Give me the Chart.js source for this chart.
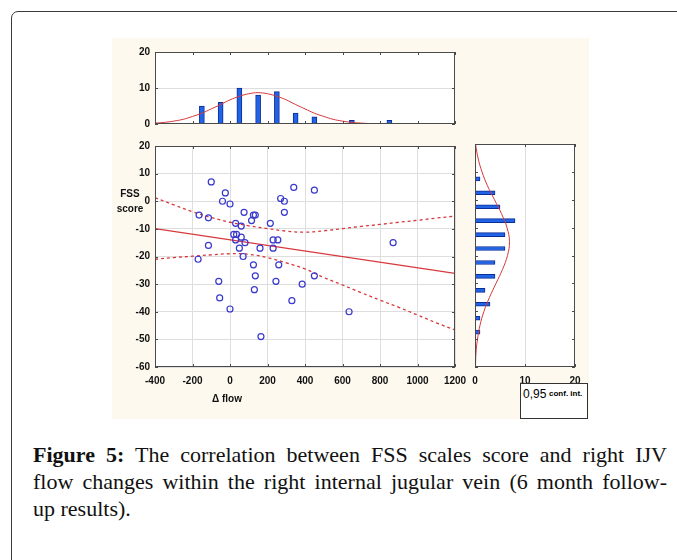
<!DOCTYPE html>
<html>
<head>
<meta charset="utf-8">
<script src="https://cdn.jsdelivr.net/npm/chart.js@4.4.0/dist/chart.umd.min.js"></script>
<style>
  body { margin: 0; width: 677px; height: 560px; overflow: hidden; position: relative; background: #fff; font-family: "Liberation Sans", Arial, sans-serif; }
  .frame { position: absolute; left: 11px; top: 11px; width: 720px; height: 620px; border: 1.5px solid #3a3a3a; border-radius: 7px; }
  .figure { position: absolute; left: 112px; top: 38px; width: 477px; height: 381px; background: #fdf9ef; }
  .panel { position: absolute; }
  .lbl { position: absolute; font-size: 10px; font-weight: bold; color: #111; text-align: center; line-height: 15px; }
  .ci { position: absolute; left: 520px; top: 383px; width: 68px; height: 36px; background: #fff; border: 1px solid #333; box-sizing: border-box; }
  .ci span { position: absolute; top: 3px; }
  .caption { position: absolute; left: 33px; top: 441px; width: 634px; font-family: "Liberation Serif", "Times New Roman", serif; font-size: 22px; line-height: 27px; color: #111; }
  .caption div { text-align: justify; text-align-last: justify; white-space: nowrap; }
  .caption div.last { text-align-last: left; }
</style>
</head>
<body>
<div class="frame"></div>
<div class="figure"></div>

<canvas id="top-hist" class="panel" width="358" height="95" style="left:112px;top:40px;"></canvas>
<canvas id="main-plot" class="panel" width="358" height="284" style="left:112px;top:135px;"></canvas>
<canvas id="side-hist" class="panel" width="120" height="284" style="left:470px;top:135px;"></canvas>

<div class="lbl" style="left:110px;top:186px;width:40px;">FSS<br>score</div>
<div class="lbl" style="left:207px;top:391px;width:40px;">&Delta; flow</div>
<div class="ci">
  <span style="left:2px;font-size:12px;">0,95</span>
  <span style="left:28px;top:5px;font-size:8px;font-weight:bold;">conf. int.</span>
</div>

<div class="caption">
  <div><b>Figure 5:</b> The correlation between FSS scales score and right IJV</div>
  <div>flow changes within the right internal jugular vein (6 month follow-</div>
  <div class="last">up results).</div>
</div>

<script>
// values
const flowDelta = [-100, -25, -40, 0, -165, -115, 75, 125, 135, 115, 30, 60, 215, 340, 450, 270, 290, 290, 20, 35, 30, 60, 80, 50, 160, 230, 255, 230, 70, -115, -170, 125, 260, 135, 450, 870, -60, 245, 385, -55, 130, 330, 0, 635, 165];
const fssScore = [7, 3, 0, -1, -5, -6, -4, -5, -5, -7, -8, -9, -8, 5, 4, 1, 0, -4, -12, -12, -14, -13, -15, -17, -17, -14, -14, -17, -20, -16, -21, -23, -23, -27, -27, -15, -29, -29, -30, -35, -32, -36, -39, -40, -49];

const regX = [-400, 1200];
const regY = [-9.9, -26.1];

const bandX = [-400, -300, -200, -100, 0, 100, 200, 300, 400, 500, 600, 700, 800, 900, 1000, 1100, 1200];
const bandUpper = [1.3, -1.3, -3.8, -5.9, -7.6, -8.9, -9.9, -10.8, -11.2, -10.7, -9.9, -9.1, -8.4, -7.6, -6.9, -6.1, -5.4];
const bandLower = [-21.0, -20.4, -19.9, -19.4, -19.0, -19.2, -20.4, -22.3, -24.5, -27.6, -30.3, -33.1, -35.8, -38.4, -41.2, -44.0, -46.6];

const flowBins = [-150, -50, 50, 150, 250, 350, 450, 550, 650, 750, 850];
const flowCounts = [5, 6, 10, 8, 9, 3, 2, 0, 1, 0, 1];
const flowCurveX = [-400, -350, -300, -250, -200, -150, -100, -50, 0, 50, 100, 150, 200, 250, 300, 350, 400, 450, 500, 550, 600, 650, 700, 750, 800, 850];
const flowCurveY = [0.25, 0.45, 0.8, 1.3, 2.1, 3.0, 4.2, 5.4, 6.7, 7.7, 8.4, 8.7, 8.4, 7.7, 6.7, 5.4, 4.2, 3.0, 2.1, 1.3, 0.8, 0.45, 0.25, 0.12, 0.06, 0.03];

const scoreBins = [7.5, 2.5, -2.5, -7.5, -12.5, -17.5, -22.5, -27.5, -32.5, -37.5, -42.5, -47.5];
const scoreCounts = [1, 4, 5, 8, 6, 6, 4, 4, 2, 3, 1, 1];
const scoreCurveY = [20, 15, 10, 5, 0, -5, -10, -15, -20, -25, -30, -35, -40, -45, -50, -55, -60];
const scoreCurveX = [0.1, 0.6, 1.4, 2.5, 3.9, 5.3, 6.4, 6.9, 6.5, 5.5, 4.2, 2.9, 1.8, 1.0, 0.5, 0.2, 0.1];

const flowTicks = [-400, -200, 0, 200, 400, 600, 800, 1000, 1200];
const scoreTicks = [20, 10, 0, -10, -20, -30, -40, -50, -60];
const countTicks = [0, 10, 20];

const RED = '#d8383c';
const BLUE_PT = '#3838cc';
const BAR_FILL = '#2163e6';
const BAR_EDGE = '#0c2d96';
const GRID = '#dedede';
const CLEAR = 'rgba(0,0,0,0)';
const tickFont = { family: '"Liberation Sans", Arial, sans-serif', size: 10, weight: 'bold' };

const zip = (xs, ys) => xs.map((x, i) => ({ x: x, y: ys[i] }));
const fixTicks = arr => scale => { scale.ticks = arr.map(v => ({ value: v })); };

// white plot area, dark frame and small inner tick marks on every edge
const panelFrame = {
  id: 'panelFrame',
  beforeDraw(chart) {
    const { ctx, chartArea: a } = chart;
    ctx.save();
    ctx.fillStyle = '#fff';
    ctx.fillRect(a.left, a.top, a.right - a.left, a.bottom - a.top);
    ctx.restore();
  },
  afterDraw(chart) {
    const { ctx, chartArea: a, scales } = chart;
    ctx.save();
    ctx.strokeStyle = '#4a4a4a';
    ctx.lineWidth = 1;
    ctx.beginPath();
    scales.x.ticks.forEach(t => {
      const px = Math.round(scales.x.getPixelForValue(t.value)) + 0.5;
      ctx.moveTo(px, a.top); ctx.lineTo(px, a.top + 3);
      ctx.moveTo(px, a.bottom); ctx.lineTo(px, a.bottom - 3);
    });
    scales.y.ticks.forEach(t => {
      const py = Math.round(scales.y.getPixelForValue(t.value)) + 0.5;
      ctx.moveTo(a.left, py); ctx.lineTo(a.left + 3, py);
      ctx.moveTo(a.right, py); ctx.lineTo(a.right - 3, py);
    });
    ctx.stroke();
    ctx.strokeRect(a.left + 0.5, a.top + 0.5, a.right - a.left - 1, a.bottom - a.top - 1);
    ctx.restore();
  }
};

const baseOptions = {
  responsive: false,
  animation: false,
  plugins: { legend: { display: false }, tooltip: { enabled: false } }
};

// main scatter
new Chart(document.getElementById('main-plot'), {
  type: 'scatter',
  data: {
    datasets: [
      {
        data: zip(flowDelta, fssScore),
        pointRadius: 3,
        pointBorderWidth: 1.2,
        pointBorderColor: BLUE_PT,
        pointBackgroundColor: CLEAR
      },
      { data: zip(regX, regY), showLine: true, pointRadius: 0, borderColor: RED, borderWidth: 1.3 },
      { data: zip(bandX, bandUpper), showLine: true, pointRadius: 0, borderColor: RED, borderWidth: 1.3, borderDash: [3, 3], tension: 0.4 },
      { data: zip(bandX, bandLower), showLine: true, pointRadius: 0, borderColor: RED, borderWidth: 1.3, borderDash: [3, 3], tension: 0.4 }
    ]
  },
  options: {
    ...baseOptions,
    layout: { autoPadding: false, padding: { left: 0, right: 15, top: 9, bottom: 0 } },
    scales: {
      x: {
        type: 'linear', min: -400, max: 1200,
        afterBuildTicks: fixTicks(flowTicks),
        afterFit: s => { s.height = 52; },
        grid: { color: GRID, tickLength: 8, tickColor: CLEAR },
        border: { display: false },
        ticks: { padding: 0, color: '#111', font: tickFont, maxRotation: 0, callback: v => String(v) }
      },
      y: {
        type: 'linear', min: -60, max: 20,
        afterBuildTicks: fixTicks(scoreTicks),
        afterFit: s => { s.width = 43; },
        grid: { color: GRID, drawTicks: false },
        border: { display: false },
        ticks: { padding: 5, color: '#111', font: tickFont, callback: v => String(v) }
      }
    }
  },
  plugins: [panelFrame]
});

// histogram of flow change, above
new Chart(document.getElementById('top-hist'), {
  type: 'bar',
  data: {
    datasets: [
      { type: 'line', data: zip(flowCurveX, flowCurveY), borderColor: RED, borderWidth: 1, pointRadius: 0, tension: 0.4 },
      { data: zip(flowBins, flowCounts), backgroundColor: BAR_FILL, borderColor: BAR_EDGE, borderWidth: 1, barThickness: 5 }
    ]
  },
  options: {
    ...baseOptions,
    layout: { autoPadding: false, padding: { left: 0, right: 15, top: 12, bottom: 0 } },
    scales: {
      x: {
        type: 'linear', min: -400, max: 1200, offset: false,
        afterBuildTicks: fixTicks(flowTicks),
        afterFit: s => { s.height = 11; },
        grid: { display: false, offset: false },
        border: { display: false },
        ticks: { display: false, padding: 0 }
      },
      y: {
        type: 'linear', min: 0, max: 20,
        afterBuildTicks: fixTicks(countTicks),
        afterFit: s => { s.width = 43; },
        grid: { drawTicks: false, color: ctx => ctx.tick && ctx.tick.value === 10 ? GRID : CLEAR },
        border: { display: false },
        ticks: { padding: 5, color: '#111', font: tickFont, callback: v => String(v) }
      }
    }
  },
  plugins: [panelFrame]
});

// histogram of FSS score, right
new Chart(document.getElementById('side-hist'), {
  type: 'bar',
  data: {
    datasets: [
      { type: 'line', indexAxis: 'y', data: zip(scoreCurveX, scoreCurveY), borderColor: RED, borderWidth: 1, pointRadius: 0, tension: 0.4 },
      { data: zip(scoreCounts, scoreBins), backgroundColor: BAR_FILL, borderColor: BAR_EDGE, borderWidth: 1, barThickness: 4 }
    ]
  },
  options: {
    ...baseOptions,
    indexAxis: 'y',
    layout: { autoPadding: false, padding: { left: 0, right: 15, top: 9, bottom: 0 } },
    scales: {
      x: {
        type: 'linear', min: 0, max: 20,
        afterBuildTicks: fixTicks(countTicks),
        afterFit: s => { s.height = 52; },
        grid: { tickLength: 8, tickColor: CLEAR, color: ctx => ctx.tick && ctx.tick.value === 10 ? GRID : CLEAR },
        border: { display: false },
        ticks: { padding: 0, color: '#111', font: tickFont, maxRotation: 0, callback: v => String(v) }
      },
      y: {
        type: 'linear', min: -60, max: 20, offset: false,
        afterBuildTicks: fixTicks(scoreTicks),
        afterFit: s => { s.width = 5; },
        grid: { display: false, offset: false },
        border: { display: false },
        ticks: { display: false }
      }
    }
  },
  plugins: [panelFrame]
});
</script>
</body>
</html>
